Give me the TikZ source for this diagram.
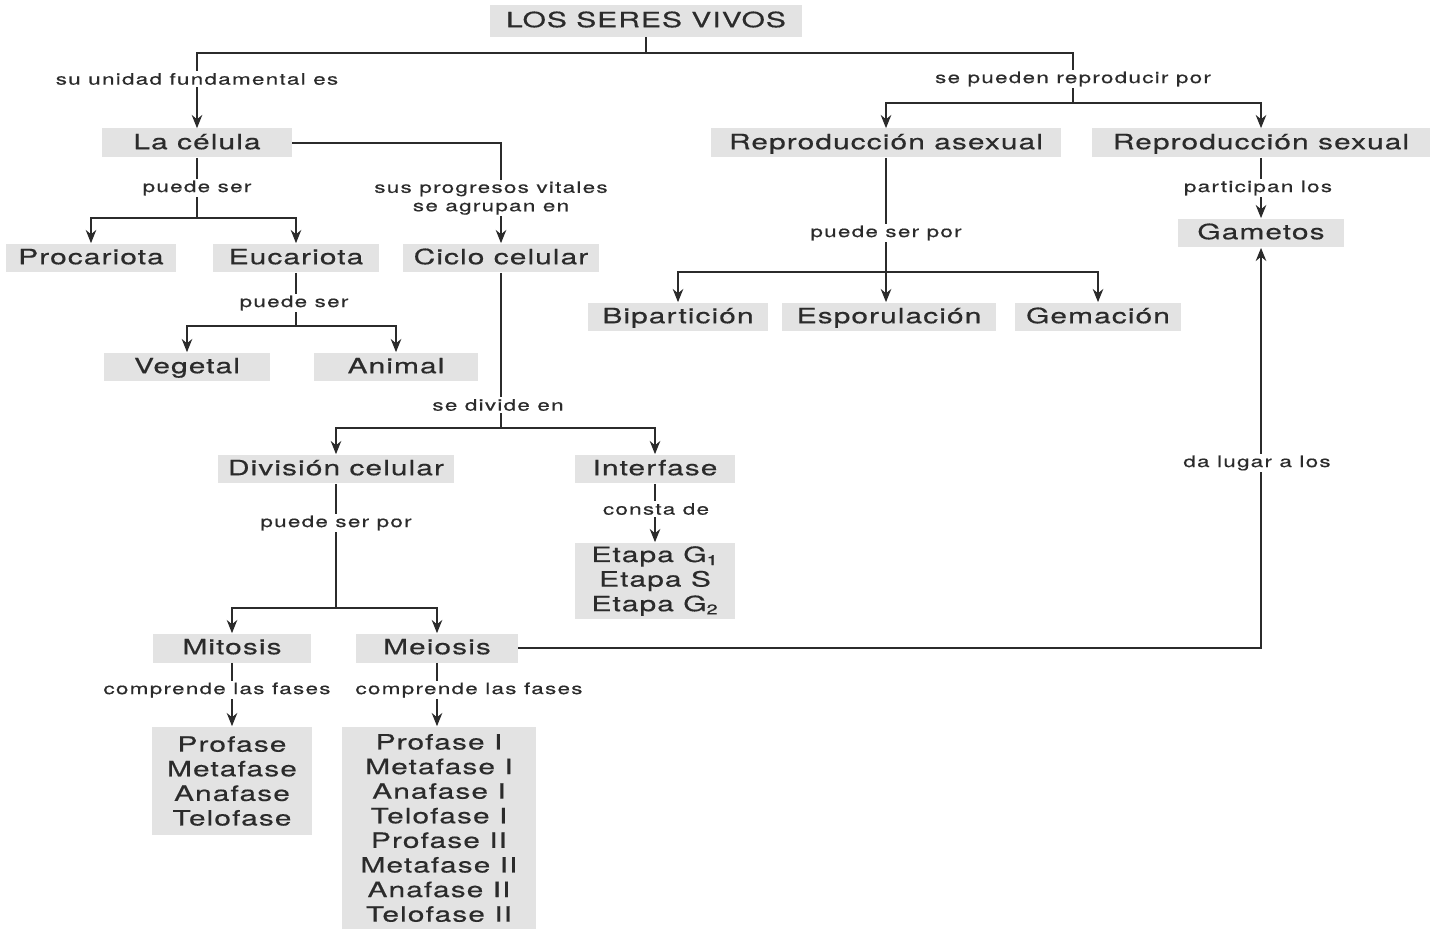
\documentclass[tikz,border=0pt]{standalone}
\usepackage{xcolor}
\usepackage{fontspec}
\setmainfont{TeX Gyre Heros}[FakeStretch=1.42,LetterSpace=5,FakeBold=0.45]
\usepackage{tikz}
\usetikzlibrary{shapes,arrows.meta,positioning}

\definecolor{boxgray}{HTML}{E3E3E3}
\definecolor{inkgray}{HTML}{2B2B2B}

\begin{document}
\begin{tikzpicture}[
        x=0.02cm,
        y=-0.02cm,
        concept/.style={
            fill=boxgray,
            text=inkgray,
            inner sep=0pt,
            minimum height=0.58cm,
            align=center,
            font=\fontsize{12}{14}\selectfont
        },
        term/.style={
            concept,
            text height=1.45ex,
            text depth=0.1ex
        },
        link/.style={
            fill=white,
            text=inkgray,
            inner xsep=2pt,
            inner ysep=1pt,
            align=center,
            font=\fontsize{9}{10.5}\selectfont\addfontfeatures{LetterSpace=8}
        },
        wire/.style={
            draw=inkgray,
            line width=1pt
        },
        arr/.style={
            wire,
            -{Stealth[length=7.5pt,width=6pt]}
        }
    ]

    \useasboundingbox[fill=white] (0,0) rectangle (1433,932);

    \node[term, minimum width=6.24cm, minimum height=0.64cm] (vivos) at (646,21) {LOS SERES VIVOS};

    \node[term, minimum width=3.8cm] (celula) at (197,143) {La célula};
    \node[term, minimum width=7cm] (asexual) at (886,143) {Reproducción asexual};
    \node[term, minimum width=6.76cm] (sexual) at (1261,143) {Reproducción sexual};

    \node[term, minimum width=3.4cm] (procariota) at (91,258) {Procariota};
    \node[term, minimum width=3.32cm] (eucariota) at (296,258) {Eucariota};
    \node[term, minimum width=3.92cm] (ciclo) at (501,258) {Ciclo celular};
    \node[term, minimum width=3.32cm] (gametos) at (1261,233) {Gametos};

    \node[term, minimum width=3.62cm] (biparticion) at (678,317) {Bipartición};
    \node[term, minimum width=4.3cm] (esporulacion) at (889,317) {Esporulación};
    \node[term, minimum width=3.34cm] (gemacion) at (1098,317) {Gemación};

    \node[term, minimum width=3.32cm] (vegetal) at (187,367) {Vegetal};
    \node[term, minimum width=3.3cm] (animal) at (396,367) {Animal};

    \node[term, minimum width=4.74cm] (division) at (336,469) {División celular};
    \node[term, minimum width=3.2cm] (interfase) at (655,469) {Interfase};
    \node[concept, minimum width=3.2cm, minimum height=1.54cm] (etapas) at (655,581)
        {Etapa G\textsubscript{1}\\Etapa S\\Etapa G\textsubscript{2}};

    \node[term, minimum width=3.18cm] (mitosis) at (232,648) {Mitosis};
    \node[term, minimum width=3.24cm] (meiosis) at (437,648) {Meiosis};
    \node[concept, minimum width=3.2cm, minimum height=2.18cm] (mitofases) at (232,781)
        {Profase\\Metafase\\Anafase\\Telofase};
    \node[concept, minimum width=3.88cm, minimum height=4.06cm] (meiofases) at (439,828)
        {Profase I\\Metafase I\\Anafase I\\Telofase I\\Profase II\\Metafase II\\Anafase II\\Telofase II};

    \coordinate (top) at (646,53);
    \coordinate (repro) at (1073,103);
    \coordinate (cel) at (197,218);
    \coordinate (euc) at (296,326);
    \coordinate (ase) at (886,272);
    \coordinate (cic) at (501,428);
    \coordinate (div) at (336,608);

    \draw[wire] (vivos.south) -- (top);
    \draw[arr] (top) -| (celula.north);
    \draw[wire] (top) -| (repro);
    \draw[arr] (repro) -| (asexual.north);
    \draw[arr] (repro) -| (sexual.north);

    \draw[arr] (celula.east) -| (ciclo.north);
    \draw[wire] (celula.south) -- (cel);
    \draw[arr] (cel) -| (procariota.north);
    \draw[arr] (cel) -| (eucariota.north);

    \draw[wire] (eucariota.south) -- (euc);
    \draw[arr] (euc) -| (vegetal.north);
    \draw[arr] (euc) -| (animal.north);

    \draw[arr] (asexual.south) -- (esporulacion.north -| asexual.south);
    \draw[arr] (ase) -| (biparticion.north);
    \draw[arr] (ase) -| (gemacion.north);
    \draw[arr] (sexual.south) -- (gametos.north);

    \draw[wire] (ciclo.south) -- (cic);
    \draw[arr] (cic) -| (division.north);
    \draw[arr] (cic) -| (interfase.north);
    \draw[arr] (interfase.south) -- (etapas.north);

    \draw[wire] (division.south) -- (div);
    \draw[arr] (div) -| (mitosis.north);
    \draw[arr] (div) -| (meiosis.north);
    \draw[arr] (mitosis.south) -- (mitofases.north);
    \draw[arr] (meiosis.south) -- (meiosis.south |- meiofases.north);
    \draw[arr] (meiosis.east) -| (gametos.south);

    \node[link] (unidad) at (197,79) {su unidad fundamental es};
    \node[link] (reproducir) at (1073,79) {se pueden reproducir por};
    \node[link] (celser) at (197,188) {puede ser};
    \node[link] (vitales) at (491,198) {sus progresos vitales\\se agrupan en};
    \node[link] (eucser) at (294,303) {puede ser};
    \node[link] (aseser) at (886,233) {puede ser por};
    \node[link] (participan) at (1258,188) {participan los};
    \node[link] (divide) at (498,405) {se divide en};
    \node[link] (consta) at (656,509) {consta de};
    \node[link] (divser) at (336,523) {puede ser por};
    \node[link] (mitofasl) at (217,690) {comprende las fases};
    \node[link] (meiofasl) at (469,690) {comprende las fases};
    \node[link] (lugar) at (1257,463) {da lugar a los};

\end{tikzpicture}
\end{document}
